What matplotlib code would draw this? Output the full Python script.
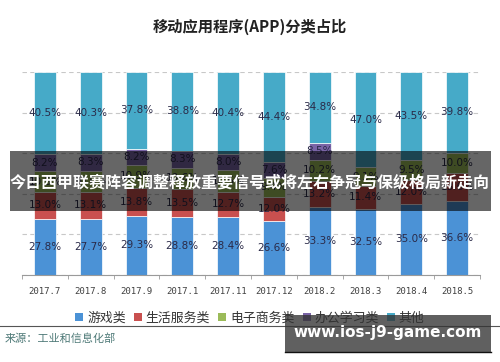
import numpy as np
import matplotlib
matplotlib.use("Agg")
import matplotlib.pyplot as plt
from matplotlib.patches import Rectangle, Patch
from matplotlib.lines import Line2D

plt.rcParams['font.family'] = ['Noto Sans CJK SC', 'DejaVu Sans']

months = ["2017.7", "2017.8", "2017.9", "2017.1", "2017.11", "2017.12",
          "2018.2", "2018.3", "2018.4", "2018.5"]
series_names = ["游戏类", "生活服务类", "电子商务类", "办公学习类", "其他"]
games = [27.8, 27.7, 29.3, 28.8, 28.4, 26.6, 33.3, 32.5, 35.0, 36.6]
life = [13.0, 13.1, 13.8, 13.5, 12.7, 12.0, 13.2, 11.4, 12.0, 13.6]
ecommerce = [10.5, 10.6, 10.9, 10.6, 10.5, 9.4, 10.2, 9.1, 9.5, 10.0]
office = [8.2, 8.3, 8.2, 8.3, 8.0, 7.6, 8.5, 0.0, 0.0, 0.0]
other = [40.5, 40.3, 37.8, 38.8, 40.4, 44.4, 34.8, 47.0, 43.5, 39.8]

title = "移动应用程序(APP)分类占比"
banner = "今日西甲联赛阵容调整释放重要信号或将左右争冠与保级格局新走向"
source = "来源：工业和信息化部"
watermark = "www.ios-j9-game.com"

colors = ['#4b92d6', '#c9504f', '#9bbb59', '#7a64a6', '#46aac8']
W, H = 500, 362
fig = plt.figure(figsize=(W / 100, H / 100), dpi=100)
fig.patch.set_facecolor('white')

ax = fig.add_axes([22 / W, 1 - 275 / H, 458 / W, 203 / H])
x = np.arange(len(months))
bottom = np.zeros(len(months))
for vals, col in zip([games, life, ecommerce, office, other], colors):
    v = np.array(vals)
    ax.bar(x, v, bottom=bottom, width=0.48, color=col, edgecolor='white',
           linewidth=0.5, zorder=2)
    for xi, b, vi in zip(x, bottom, v):
        if vi > 0:
            ax.text(xi, b + vi / 2, f"{vi:.1f}%", ha='center', va='center',
                    fontsize=7.5, color='#2a2a48', family='DejaVu Sans', zorder=3)
    bottom += v

ax.set_xlim(-0.5, len(months) - 0.5)
ax.set_ylim(0, 100)
ax.set_yticks([0, 20, 40, 60, 80, 100])
ax.set_yticklabels([])
ax.tick_params(axis='y', length=0)
ax.yaxis.grid(True, linestyle=(0, (4, 3)), color='#c8c8c8', linewidth=0.8, zorder=0)
ax.set_axisbelow(True)
for s in ['top', 'right', 'left']:
    ax.spines[s].set_visible(False)
ax.spines['bottom'].set_color('#9a9a9a')
ax.set_xticks(x)
ax.set_xticklabels(months, family='DejaVu Sans Mono', fontsize=6.5, color='#404040')
ax.tick_params(axis='x', which='major', length=0, pad=9)
ax.set_xticks(np.arange(-0.5, len(months), 1), minor=True)
ax.tick_params(axis='x', which='minor', length=3, color='#9a9a9a', direction='out')

fig.text(0.5, 1 - 27 / H, title, ha='center', va='center', fontsize=11,
         weight='bold', color='#222222')

handles = [Patch(facecolor=c, edgecolor='none') for c in colors]
fig.legend(handles, series_names, loc='center', bbox_to_anchor=(0.5, 1 - 318 / H),
           ncol=5, frameon=False, fontsize=9.3, handlelength=0.6, handleheight=0.6,
           handletextpad=0.3, columnspacing=0.65, labelcolor='#333333')

fig.add_artist(Line2D([0, 1], [1 - 326 / H] * 2, color='#555555', linewidth=0.8))
fig.text(5 / W, 1 - 339 / H, source, ha='left', va='center', fontsize=8,
         color='#4f7a78')

# banner overlay
fig.add_artist(Rectangle((10 / W, 1 - 211 / H), 481 / W, 60 / H,
                         transform=fig.transFigure, facecolor='black',
                         alpha=0.6, edgecolor='none', zorder=10))
fig.text(250 / W, 1 - 183 / H, banner, ha='center', va='center', fontsize=11.5,
         weight='bold', color='white', zorder=11)

# watermark box
fig.add_artist(Rectangle((285 / W, 1 - 352 / H), 206 / W, 37 / H,
                         transform=fig.transFigure, facecolor='#333333',
                         alpha=0.78, edgecolor='none', zorder=10))
fig.add_artist(Line2D([285 / W, 491 / W], [1 - 352 / H] * 2, color='#111111',
                      linewidth=1.0, zorder=11))
fig.text(388 / W, 1 - 333 / H, watermark, ha='center', va='center', fontsize=11,
         weight='bold', color='white', family='DejaVu Sans', zorder=11)

fig.savefig('out.png', dpi=100, facecolor='white')
